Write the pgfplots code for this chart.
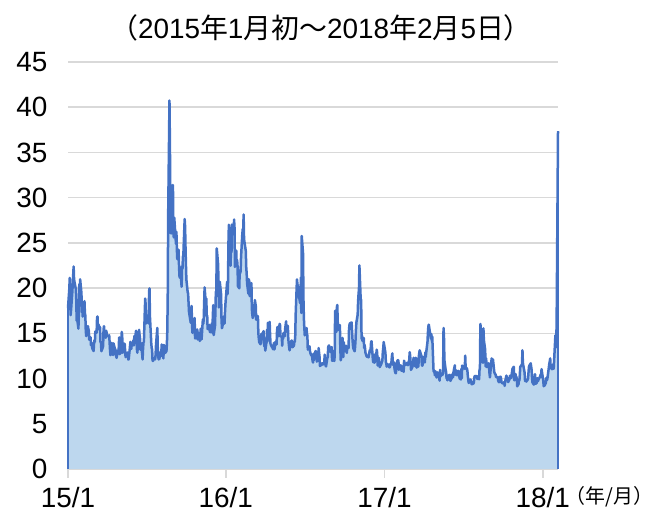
\documentclass[border=0pt]{standalone}
\usepackage{fontspec}
\setmainfont{Liberation Sans}
\newfontfamily\cjk{Noto Sans CJK JP}
\usepackage{pgfplots}
\usepackage{pgfplotstable}
\pgfplotsset{compat=1.18}
\usepgfplotslibrary{dateplot}
\definecolor{linecol}{HTML}{4472C4}
\definecolor{fillcol}{HTML}{BDD7EE}
\definecolor{gridcol}{HTML}{D9D9D9}

\pgfplotstableread{
date v
2015-01-02 17.79
2015-01-05 19.92
2015-01-06 21.12
2015-01-07 19.31
2015-01-08 17.01
2015-01-09 17.55
2015-01-12 19.60
2015-01-13 20.56
2015-01-14 21.48
2015-01-15 22.39
2015-01-16 20.95
2015-01-20 19.89
2015-01-21 18.85
2015-01-22 16.40
2015-01-23 16.66
2015-01-26 15.52
2015-01-27 17.22
2015-01-28 20.44
2015-01-29 18.76
2015-01-30 20.97
2015-02-02 19.43
2015-02-03 17.33
2015-02-04 18.33
2015-02-05 16.85
2015-02-06 17.29
2015-02-09 18.55
2015-02-10 17.23
2015-02-11 16.96
2015-02-12 15.34
2015-02-13 14.69
2015-02-17 15.80
2015-02-18 15.45
2015-02-19 15.29
2015-02-20 14.30
2015-02-23 14.56
2015-02-24 13.69
2015-02-25 13.84
2015-02-26 13.91
2015-02-27 13.34
2015-03-02 13.04
2015-03-03 13.86
2015-03-04 14.23
2015-03-05 14.04
2015-03-06 15.20
2015-03-09 15.06
2015-03-10 16.69
2015-03-11 16.87
2015-03-12 15.42
2015-03-13 16.00
2015-03-16 15.61
2015-03-17 15.66
2015-03-18 13.97
2015-03-19 14.07
2015-03-20 13.02
2015-03-23 13.41
2015-03-24 13.62
2015-03-25 15.44
2015-03-26 15.80
2015-03-27 15.07
2015-03-30 14.51
2015-03-31 15.29
2015-04-01 15.11
2015-04-02 14.67
2015-04-06 14.74
2015-04-07 14.78
2015-04-08 13.98
2015-04-09 13.09
2015-04-10 12.58
2015-04-13 13.94
2015-04-14 13.67
2015-04-15 12.84
2015-04-16 12.60
2015-04-17 13.89
2015-04-20 13.30
2015-04-21 13.25
2015-04-22 12.71
2015-04-23 12.48
2015-04-24 12.29
2015-04-27 13.12
2015-04-28 13.03
2015-04-29 13.39
2015-04-30 14.55
2015-05-01 12.70
2015-05-04 12.85
2015-05-05 14.31
2015-05-06 15.15
2015-05-07 14.71
2015-05-08 12.86
2015-05-11 13.85
2015-05-12 13.86
2015-05-13 13.76
2015-05-14 12.74
2015-05-15 12.38
2015-05-18 12.73
2015-05-19 12.85
2015-05-20 12.88
2015-05-21 12.11
2015-05-22 12.13
2015-05-26 14.06
2015-05-27 13.27
2015-05-28 13.31
2015-05-29 13.84
2015-06-01 13.97
2015-06-02 14.24
2015-06-03 13.66
2015-06-04 14.71
2015-06-05 14.21
2015-06-08 15.29
2015-06-09 14.47
2015-06-10 13.22
2015-06-11 12.85
2015-06-12 13.78
2015-06-15 15.39
2015-06-16 14.81
2015-06-17 14.50
2015-06-18 13.19
2015-06-19 13.96
2015-06-22 12.74
2015-06-23 12.11
2015-06-24 13.26
2015-06-25 14.01
2015-06-26 14.02
2015-06-29 18.85
2015-06-30 18.23
2015-07-01 16.09
2015-07-02 16.79
2015-07-06 17.01
2015-07-07 16.09
2015-07-08 19.66
2015-07-09 19.97
2015-07-10 16.83
2015-07-13 13.90
2015-07-14 13.37
2015-07-15 13.23
2015-07-16 11.95
2015-07-17 11.95
2015-07-20 12.25
2015-07-21 12.22
2015-07-22 12.12
2015-07-23 12.64
2015-07-24 13.74
2015-07-27 15.60
2015-07-28 13.44
2015-07-29 12.50
2015-07-30 12.13
2015-07-31 12.12
2015-08-03 12.56
2015-08-04 13.00
2015-08-05 12.51
2015-08-06 13.77
2015-08-07 13.39
2015-08-10 12.23
2015-08-11 13.71
2015-08-12 13.61
2015-08-13 13.49
2015-08-14 12.83
2015-08-17 13.02
2015-08-18 13.79
2015-08-19 15.25
2015-08-20 19.14
2015-08-21 28.03
2015-08-24 40.74
2015-08-25 36.02
2015-08-26 30.32
2015-08-27 26.10
2015-08-28 26.05
2015-08-31 28.43
2015-09-01 31.40
2015-09-02 26.09
2015-09-03 25.61
2015-09-04 27.80
2015-09-08 24.90
2015-09-09 26.23
2015-09-10 24.37
2015-09-11 23.20
2015-09-14 24.25
2015-09-15 22.54
2015-09-16 21.35
2015-09-17 21.14
2015-09-18 22.28
2015-09-21 20.14
2015-09-22 22.44
2015-09-23 22.13
2015-09-24 23.47
2015-09-25 23.62
2015-09-28 27.63
2015-09-29 26.83
2015-09-30 24.50
2015-10-01 22.55
2015-10-02 20.94
2015-10-05 19.54
2015-10-06 19.40
2015-10-07 18.40
2015-10-08 17.42
2015-10-09 17.08
2015-10-12 16.17
2015-10-13 17.67
2015-10-14 18.03
2015-10-15 16.05
2015-10-16 15.05
2015-10-19 15.75
2015-10-20 15.75
2015-10-21 16.70
2015-10-22 14.45
2015-10-23 14.46
2015-10-26 15.29
2015-10-27 15.43
2015-10-28 14.33
2015-10-29 14.61
2015-10-30 15.07
2015-11-02 14.15
2015-11-03 14.54
2015-11-04 15.51
2015-11-05 15.05
2015-11-06 14.33
2015-11-09 16.52
2015-11-10 16.06
2015-11-11 16.60
2015-11-12 18.37
2015-11-13 20.08
2015-11-16 18.16
2015-11-17 18.84
2015-11-18 16.85
2015-11-19 16.99
2015-11-20 15.47
2015-11-23 15.62
2015-11-24 15.93
2015-11-25 15.19
2015-11-27 15.12
2015-11-30 16.13
2015-12-01 15.07
2015-12-02 16.98
2015-12-03 18.11
2015-12-04 14.81
2015-12-07 15.84
2015-12-08 17.60
2015-12-09 19.61
2015-12-10 19.34
2015-12-11 24.39
2015-12-14 22.73
2015-12-15 20.95
2015-12-16 17.86
2015-12-17 18.94
2015-12-18 20.70
2015-12-21 19.34
2015-12-22 16.60
2015-12-23 15.57
2015-12-24 15.74
2015-12-28 16.91
2015-12-29 16.08
2015-12-30 17.29
2015-12-31 18.21
2016-01-04 20.70
2016-01-05 19.34
2016-01-06 20.59
2016-01-07 24.99
2016-01-08 27.01
2016-01-11 24.30
2016-01-12 22.47
2016-01-13 25.22
2016-01-14 23.95
2016-01-15 27.02
2016-01-19 26.05
2016-01-20 27.59
2016-01-21 26.69
2016-01-22 22.34
2016-01-25 24.15
2016-01-26 22.50
2016-01-27 23.11
2016-01-28 22.42
2016-01-29 20.20
2016-02-01 19.98
2016-02-02 21.98
2016-02-03 21.65
2016-02-04 21.84
2016-02-05 23.38
2016-02-08 26.00
2016-02-09 26.54
2016-02-10 26.29
2016-02-11 28.14
2016-02-12 25.40
2016-02-16 24.11
2016-02-17 22.31
2016-02-18 21.64
2016-02-19 20.53
2016-02-22 19.38
2016-02-23 20.98
2016-02-24 20.72
2016-02-25 19.11
2016-02-26 19.81
2016-02-29 20.55
2016-03-01 17.70
2016-03-02 17.09
2016-03-03 16.70
2016-03-04 16.86
2016-03-07 17.35
2016-03-08 18.67
2016-03-09 18.34
2016-03-10 18.05
2016-03-11 16.50
2016-03-14 16.92
2016-03-15 16.84
2016-03-16 14.99
2016-03-17 14.44
2016-03-18 14.02
2016-03-21 13.79
2016-03-22 14.17
2016-03-23 14.94
2016-03-24 14.74
2016-03-28 15.24
2016-03-29 13.82
2016-03-30 13.56
2016-03-31 13.95
2016-04-01 13.10
2016-04-04 14.12
2016-04-05 15.42
2016-04-06 14.09
2016-04-07 16.16
2016-04-08 15.36
2016-04-11 16.26
2016-04-12 14.85
2016-04-13 13.84
2016-04-14 13.72
2016-04-15 13.62
2016-04-18 13.35
2016-04-19 13.24
2016-04-20 13.28
2016-04-21 13.95
2016-04-22 13.22
2016-04-25 14.08
2016-04-26 13.96
2016-04-27 13.77
2016-04-28 15.22
2016-04-29 15.70
2016-05-02 14.68
2016-05-03 15.60
2016-05-04 16.05
2016-05-05 15.91
2016-05-06 14.72
2016-05-09 14.57
2016-05-10 13.63
2016-05-11 14.69
2016-05-12 14.41
2016-05-13 15.04
2016-05-16 14.68
2016-05-17 15.57
2016-05-18 15.95
2016-05-19 16.33
2016-05-20 15.20
2016-05-23 15.82
2016-05-24 14.42
2016-05-25 13.90
2016-05-26 13.43
2016-05-27 13.12
2016-05-31 14.19
2016-06-01 14.20
2016-06-02 13.63
2016-06-03 13.47
2016-06-06 13.65
2016-06-07 14.05
2016-06-08 14.08
2016-06-09 14.64
2016-06-10 17.03
2016-06-13 20.97
2016-06-14 20.50
2016-06-15 20.14
2016-06-16 19.37
2016-06-17 19.41
2016-06-20 18.37
2016-06-21 18.48
2016-06-22 21.17
2016-06-23 17.25
2016-06-24 25.76
2016-06-27 23.85
2016-06-28 18.75
2016-06-29 16.64
2016-06-30 15.63
2016-07-01 14.77
2016-07-05 15.58
2016-07-06 14.96
2016-07-07 14.76
2016-07-08 13.20
2016-07-11 13.54
2016-07-12 13.55
2016-07-13 13.04
2016-07-14 12.82
2016-07-15 12.67
2016-07-18 12.44
2016-07-19 11.97
2016-07-20 11.77
2016-07-21 12.74
2016-07-22 12.02
2016-07-25 12.87
2016-07-26 13.05
2016-07-27 12.83
2016-07-28 12.72
2016-07-29 11.87
2016-08-01 12.44
2016-08-02 13.37
2016-08-03 12.86
2016-08-04 12.42
2016-08-05 11.39
2016-08-08 11.50
2016-08-09 11.66
2016-08-10 11.66
2016-08-11 11.68
2016-08-12 11.55
2016-08-15 11.81
2016-08-16 12.64
2016-08-17 12.19
2016-08-18 11.43
2016-08-19 11.34
2016-08-22 12.27
2016-08-23 12.38
2016-08-24 13.45
2016-08-25 13.63
2016-08-26 13.65
2016-08-29 12.94
2016-08-30 12.94
2016-08-31 13.42
2016-09-01 13.48
2016-09-02 11.98
2016-09-06 12.02
2016-09-07 11.94
2016-09-08 12.51
2016-09-09 17.50
2016-09-12 15.16
2016-09-13 17.85
2016-09-14 18.14
2016-09-15 16.30
2016-09-16 15.37
2016-09-19 15.53
2016-09-20 15.92
2016-09-21 13.30
2016-09-22 12.02
2016-09-23 12.29
2016-09-26 14.50
2016-09-27 13.10
2016-09-28 12.39
2016-09-29 14.02
2016-09-30 13.29
2016-10-03 13.57
2016-10-04 13.63
2016-10-05 12.99
2016-10-06 12.84
2016-10-07 13.48
2016-10-10 13.38
2016-10-11 15.36
2016-10-12 15.91
2016-10-13 16.12
2016-10-14 16.12
2016-10-17 16.21
2016-10-18 15.28
2016-10-19 14.41
2016-10-20 13.75
2016-10-21 13.34
2016-10-24 13.02
2016-10-25 13.46
2016-10-26 14.24
2016-10-27 15.36
2016-10-28 16.19
2016-10-31 17.06
2016-11-01 18.56
2016-11-02 19.32
2016-11-03 19.93
2016-11-04 22.51
2016-11-07 18.71
2016-11-08 18.74
2016-11-09 14.38
2016-11-10 14.74
2016-11-11 14.17
2016-11-14 14.48
2016-11-15 13.37
2016-11-16 13.72
2016-11-17 13.35
2016-11-18 12.85
2016-11-21 12.42
2016-11-22 12.41
2016-11-23 12.43
2016-11-25 12.34
2016-11-28 13.15
2016-11-29 12.90
2016-11-30 13.33
2016-12-01 14.07
2016-12-02 14.12
2016-12-05 12.14
2016-12-06 11.79
2016-12-07 12.22
2016-12-08 12.64
2016-12-09 11.75
2016-12-12 12.64
2016-12-13 12.72
2016-12-14 13.19
2016-12-15 12.79
2016-12-16 11.44
2016-12-19 12.29
2016-12-20 11.45
2016-12-21 11.27
2016-12-22 11.43
2016-12-23 11.44
2016-12-27 11.99
2016-12-28 12.95
2016-12-29 13.37
2016-12-30 14.04
2017-01-03 12.85
2017-01-04 11.85
2017-01-05 11.67
2017-01-06 11.32
2017-01-09 11.56
2017-01-10 11.49
2017-01-11 11.26
2017-01-12 11.54
2017-01-13 11.23
2017-01-17 11.87
2017-01-18 12.48
2017-01-19 12.78
2017-01-20 11.54
2017-01-23 11.77
2017-01-24 11.07
2017-01-25 10.81
2017-01-26 10.63
2017-01-27 10.58
2017-01-30 11.88
2017-01-31 11.99
2017-02-01 12.04
2017-02-02 11.93
2017-02-03 10.97
2017-02-06 11.37
2017-02-07 11.45
2017-02-08 11.45
2017-02-09 10.88
2017-02-10 10.85
2017-02-13 11.07
2017-02-14 10.74
2017-02-15 11.97
2017-02-16 11.76
2017-02-17 11.49
2017-02-21 11.57
2017-02-22 11.74
2017-02-23 11.71
2017-02-24 11.47
2017-02-27 12.09
2017-02-28 12.92
2017-03-01 12.54
2017-03-02 11.81
2017-03-03 10.96
2017-03-06 11.24
2017-03-07 11.45
2017-03-08 11.86
2017-03-09 12.30
2017-03-10 11.66
2017-03-13 11.35
2017-03-14 12.30
2017-03-15 11.63
2017-03-16 11.21
2017-03-17 11.28
2017-03-20 11.34
2017-03-21 12.47
2017-03-22 12.81
2017-03-23 13.12
2017-03-24 12.96
2017-03-27 12.50
2017-03-28 11.53
2017-03-29 11.42
2017-03-30 11.54
2017-03-31 12.37
2017-04-03 12.38
2017-04-04 11.79
2017-04-05 12.89
2017-04-06 12.39
2017-04-07 12.87
2017-04-10 14.05
2017-04-11 15.07
2017-04-12 15.77
2017-04-13 15.96
2017-04-17 14.66
2017-04-18 14.42
2017-04-19 14.93
2017-04-20 14.15
2017-04-21 14.63
2017-04-24 10.84
2017-04-25 10.76
2017-04-26 10.85
2017-04-27 10.36
2017-04-28 10.82
2017-05-01 10.11
2017-05-02 10.59
2017-05-03 10.68
2017-05-04 10.46
2017-05-05 10.57
2017-05-08 9.77
2017-05-09 10.96
2017-05-10 10.21
2017-05-11 10.60
2017-05-12 10.40
2017-05-15 10.42
2017-05-16 10.65
2017-05-17 15.59
2017-05-18 14.66
2017-05-19 12.04
2017-05-22 10.93
2017-05-23 10.72
2017-05-24 10.02
2017-05-25 9.99
2017-05-26 9.81
2017-05-30 10.38
2017-05-31 10.41
2017-06-01 9.89
2017-06-02 9.75
2017-06-05 10.07
2017-06-06 10.45
2017-06-07 10.39
2017-06-08 10.16
2017-06-09 10.70
2017-06-12 11.46
2017-06-13 10.42
2017-06-14 10.64
2017-06-15 10.90
2017-06-16 10.38
2017-06-19 10.37
2017-06-20 10.86
2017-06-21 10.75
2017-06-22 10.48
2017-06-23 10.02
2017-06-26 9.90
2017-06-27 11.06
2017-06-28 10.03
2017-06-29 11.44
2017-06-30 11.18
2017-07-03 11.22
2017-07-05 11.07
2017-07-06 12.54
2017-07-07 11.19
2017-07-10 11.11
2017-07-11 10.89
2017-07-12 10.30
2017-07-13 9.90
2017-07-14 9.51
2017-07-17 9.82
2017-07-18 9.89
2017-07-19 9.79
2017-07-20 9.58
2017-07-21 9.36
2017-07-24 9.43
2017-07-25 9.43
2017-07-26 9.60
2017-07-27 10.11
2017-07-28 10.29
2017-07-31 10.26
2017-08-01 10.09
2017-08-02 10.28
2017-08-03 9.95
2017-08-04 10.03
2017-08-07 9.93
2017-08-08 10.96
2017-08-09 11.11
2017-08-10 16.04
2017-08-11 15.51
2017-08-14 12.33
2017-08-15 12.04
2017-08-16 11.74
2017-08-17 15.55
2017-08-18 14.26
2017-08-21 13.19
2017-08-22 11.35
2017-08-23 12.25
2017-08-24 11.78
2017-08-25 11.28
2017-08-28 11.32
2017-08-29 11.70
2017-08-30 11.22
2017-08-31 10.59
2017-09-01 10.13
2017-09-05 12.23
2017-09-06 11.63
2017-09-07 11.55
2017-09-08 12.12
2017-09-11 10.73
2017-09-12 10.58
2017-09-13 10.50
2017-09-14 10.44
2017-09-15 10.17
2017-09-18 10.15
2017-09-19 10.18
2017-09-20 9.78
2017-09-21 9.67
2017-09-22 9.59
2017-09-25 10.21
2017-09-26 10.17
2017-09-27 9.87
2017-09-28 9.55
2017-09-29 9.51
2017-10-02 9.45
2017-10-03 9.51
2017-10-04 9.63
2017-10-05 9.19
2017-10-06 9.65
2017-10-09 10.33
2017-10-10 10.08
2017-10-11 9.85
2017-10-12 9.91
2017-10-13 9.61
2017-10-16 9.91
2017-10-17 10.31
2017-10-18 10.06
2017-10-19 10.05
2017-10-20 10.08
2017-10-23 11.07
2017-10-24 11.16
2017-10-25 11.23
2017-10-26 11.30
2017-10-27 9.80
2017-10-30 10.50
2017-10-31 10.18
2017-11-01 10.20
2017-11-02 9.93
2017-11-03 9.14
2017-11-06 9.40
2017-11-07 9.89
2017-11-08 9.78
2017-11-09 10.50
2017-11-10 11.29
2017-11-13 11.50
2017-11-14 11.59
2017-11-15 13.13
2017-11-16 11.76
2017-11-17 11.43
2017-11-20 10.65
2017-11-21 9.73
2017-11-22 9.88
2017-11-24 9.67
2017-11-27 9.87
2017-11-28 10.03
2017-11-29 10.70
2017-11-30 11.28
2017-12-01 11.43
2017-12-04 11.68
2017-12-05 11.33
2017-12-06 11.02
2017-12-07 10.16
2017-12-08 9.58
2017-12-11 9.34
2017-12-12 9.34
2017-12-13 10.18
2017-12-14 10.49
2017-12-15 9.42
2017-12-18 9.53
2017-12-19 10.03
2017-12-20 10.03
2017-12-21 9.72
2017-12-22 9.90
2017-12-26 10.25
2017-12-27 10.47
2017-12-28 10.18
2017-12-29 11.04
2018-01-02 9.77
2018-01-03 9.15
2018-01-04 9.22
2018-01-05 9.22
2018-01-08 9.52
2018-01-09 10.08
2018-01-10 9.82
2018-01-11 9.88
2018-01-12 10.16
2018-01-16 11.66
2018-01-17 11.91
2018-01-18 12.22
2018-01-19 11.27
2018-01-22 11.03
2018-01-23 11.10
2018-01-24 11.47
2018-01-25 11.58
2018-01-26 11.08
2018-01-29 13.84
2018-01-30 14.79
2018-01-31 13.54
2018-02-01 13.47
2018-02-02 17.31
2018-02-05 37.32
}\vix

\begin{document}
\begin{tikzpicture}[x=1bp,y=1bp]
\useasboundingbox (0,0) rectangle (652,516);
\begin{axis}[
  at={(68bp,47bp)}, anchor=south west,
  scale only axis, width=490bp, height=407bp,
  date coordinates in=x, date ZERO=2015-01-01,
  xmin=2015-01-02, xmax=2018-02-05,
  ymin=0, ymax=45,
  ytick={0,5,...,45},
  xtick={2015-01-02,2016-01-01,2017-01-01,2018-01-01},
  xticklabels={15/1,16/1,17/1,18/1},
  axis x line*=bottom, axis y line*=left,
  x axis line style={draw=gridcol, line width=1.5bp, -},
  y axis line style={draw=none},
  ytick style={draw=none},
  xtick style={draw=gridcol, line width=1.5bp},
  xtick align=outside,
  major tick length=9bp,
  ymajorgrids, major grid style={draw=gridcol, line width=1.5bp},
  /pgf/number format/assume math mode=true,
  tick label style={font=\fontsize{28}{32}\selectfont},
  yticklabel style={anchor=east, xshift=-17bp},
  xticklabel style={anchor=base, yshift=-30bp},
  clip=false,
]
\addplot[fill=fillcol, draw=none] table[x=date, y=v] {\vix} \closedcycle;
\addplot[linecol, line width=2.5bp, line join=round] table[x=date, y=v] {\vix};
\addplot[linecol, line width=2.5bp] coordinates {(2015-01-02,0) (2015-01-02,17.79)};
\addplot[linecol, line width=2.5bp] coordinates {(2018-02-05,37.32) (2018-02-05,0)};
\end{axis}
\node at (321,488) {\fontsize{28}{32}\selectfont{\cjk （}2015{\cjk 年}1{\cjk 月初～}2018{\cjk 年}2{\cjk 月}5{\cjk 日）}};
\node[anchor=west] at (562,19) {\fontsize{20}{24}\selectfont\cjk （年/月）};
\end{tikzpicture}
\end{document}
